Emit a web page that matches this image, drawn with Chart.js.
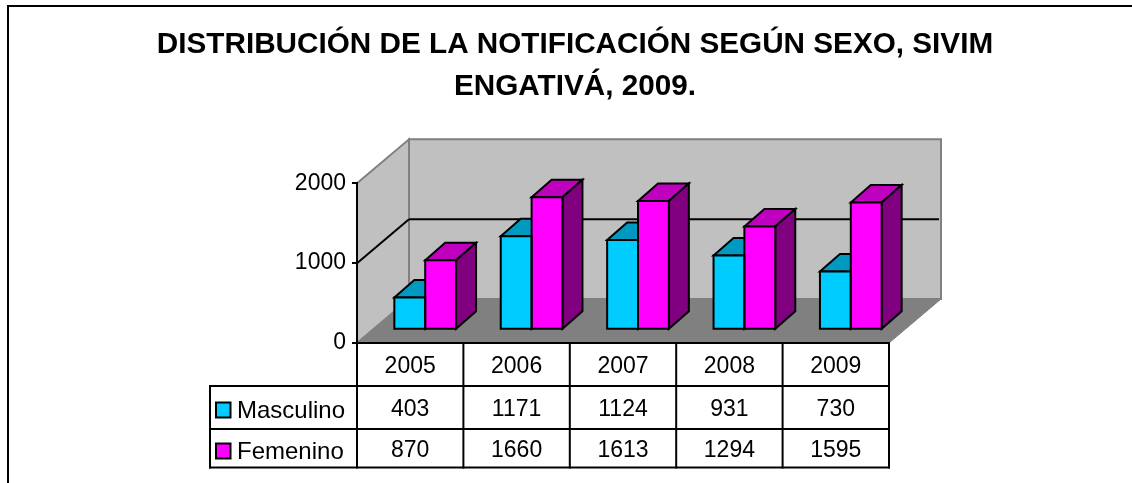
<!DOCTYPE html>
<html><head><meta charset="utf-8">
<style>html,body{margin:0;padding:0;background:#fff}canvas{display:block}</style>
<script src="https://cdn.jsdelivr.net/npm/chart.js@4"></script>
</head><body><canvas id="c" width="1132" height="483"></canvas>
<script>
const categories = ['2005','2006','2007','2008','2009'];
const masculino = [403,1171,1124,931,730];
const femenino = [870,1660,1613,1294,1595];
const seriesNames = ['Masculino','Femenino'];
const titleLines = ['DISTRIBUCIÓN DE LA NOTIFICACIÓN SEGÚN SEXO, SIVIM','ENGATIVÁ, 2009.'];
const FONT = '"Liberation Sans", Arial, sans-serif';
const TXT = 23;
const WALL = [52,-44], BARSHIFT = [15,-13.2], BARDEPTH = [20,-17.5];
const COL = {m:['#00CCFF','#0099BF','#006680'], f:['#FF00FF','#BF00BF','#800080']};
const ROWS = [386,429,467.5], TLEFT = 210;

function poly(ctx,pts,fill,stroke,lw){
  ctx.beginPath();pts.forEach((p,i)=>i?ctx.lineTo(p[0],p[1]):ctx.moveTo(p[0],p[1]));ctx.closePath();
  if(fill){ctx.fillStyle=fill;ctx.fill();}
  if(stroke){ctx.strokeStyle=stroke;ctx.lineWidth=lw;ctx.lineJoin='miter';ctx.stroke();}
}
function seg(ctx,x1,y1,x2,y2,col,lw){ctx.beginPath();ctx.moveTo(x1,y1);ctx.lineTo(x2,y2);ctx.strokeStyle=col;ctx.lineWidth=lw;ctx.stroke();}

const chart3d = {
  id:'chart3d',
  beforeDraw(chart){
    const {ctx,scales:{x,y}}=chart, a=chart.chartArea;
    const dx=WALL[0],dy=WALL[1];
    ctx.save();
    ctx.strokeStyle='#000';ctx.lineWidth=2;
    ctx.beginPath();ctx.moveTo(8,483);ctx.lineTo(8,6);ctx.lineTo(1132,6);ctx.stroke();
    const b=y.getPixelForValue(0),t=y.getPixelForValue(2000);
    poly(ctx,[[a.left+dx,t+dy],[a.right+dx,t+dy],[a.right+dx,b+dy],[a.left+dx,b+dy]],'#C0C0C0','#808080',2);
    poly(ctx,[[a.left,t],[a.left+dx,t+dy],[a.left+dx,b+dy],[a.left,b]],'#C0C0C0','#808080',2);
    poly(ctx,[[a.left,b],[a.left+dx,b+dy],[a.right+dx,b+dy],[a.right,b]],'#808080','#808080',1);
    const g=y.getPixelForValue(1000);
    seg(ctx,a.left,g,a.left+dx,g+dy,'#000',2);
    seg(ctx,a.left+dx,g+dy,a.right+dx-2,g+dy,'#000',2);
    const n=categories.length, w=(a.right-a.left)/n;
    ctx.lineCap='square';
    for(let i=0;i<=n;i++){const xx=a.left+i*w;seg(ctx,xx,b,xx,ROWS[2],'#000',2);}
    ROWS.forEach(r=>seg(ctx,TLEFT,r,a.right,r,'#000',2));
    seg(ctx,TLEFT,ROWS[0],TLEFT,ROWS[2],'#000',2);
    ctx.textBaseline='middle';
    const rowY=[410,451];
    [masculino,femenino].forEach((arr,r)=>{
      ctx.font=TXT+'px '+FONT;
      ctx.textAlign='center';
      arr.forEach((v,i)=>{ctx.fillStyle='#000';ctx.fillText(String(v),x.getPixelForTick(i),rowY[r]);});
      ctx.textAlign='left';
      ctx.font='24px '+FONT;
      ctx.fillStyle='#000';ctx.fillText(seriesNames[r],237,rowY[r]+1);
      const c=r?COL.f[0]:COL.m[0];
      poly(ctx,[[216,rowY[r]-7.5],[230.5,rowY[r]-7.5],[230.5,rowY[r]+7.5],[216,rowY[r]+7.5]],c,'#000',2);
    });
    ctx.restore();
  },
  beforeDatasetsDraw(chart){
    const ctx=chart.ctx;
    ctx.save();
    ctx.translate(BARSHIFT[0],BARSHIFT[1]);
    const [dx,dy]=BARDEPTH;
    [COL.m,COL.f].forEach((c,ds)=>{
      chart.getDatasetMeta(ds).data.forEach(bar=>{
        const p=bar.getProps(['x','y','base','width'],true);
        const l=p.x-p.width/2,r=p.x+p.width/2;
        poly(ctx,[[l,p.y],[l+dx,p.y+dy],[r+dx,p.y+dy],[r,p.y]],c[1],'#000',2);
        poly(ctx,[[r,p.y],[r+dx,p.y+dy],[r+dx,p.base+dy],[r,p.base]],c[2],'#000',2);
      });
    });
  },
  afterDatasetsDraw(chart){
    const ctx=chart.ctx;
    [0,1].forEach(ds=>{
      chart.getDatasetMeta(ds).data.forEach(bar=>{
        const p=bar.getProps(['x','y','base','width'],true);
        const l=p.x-p.width/2,r=p.x+p.width/2;
        poly(ctx,[[l,p.y],[r,p.y],[r,p.base],[l,p.base]],null,'#000',2);
      });
    });
    ctx.restore();
  }
};

new Chart(document.getElementById('c'),{
  type:'bar',
  data:{labels:categories,datasets:[
    {label:seriesNames[0],data:masculino,backgroundColor:COL.m[0],borderWidth:0},
    {label:seriesNames[1],data:femenino,backgroundColor:COL.f[0],borderWidth:0}
  ]},
  plugins:[chart3d],
  options:{
    responsive:false,animation:false,devicePixelRatio:1,
    layout:{padding:{left:18,right:0,top:0,bottom:0}},
    datasets:{bar:{categoryPercentage:0.58,barPercentage:1}},
    plugins:{
      legend:{display:false},tooltip:{enabled:false},
      title:{display:true,text:titleLines,color:'#000',
        font:{family:FONT,size:29.7,weight:'bold',lineHeight:42/29.7},
        padding:{top:24,bottom:75.3}}
    },
    scales:{
      x:{position:'bottom',grid:{display:false},
        border:{display:true,color:'#000',width:2},
        ticks:{color:'#000',font:{family:FONT,size:TXT},padding:2,maxRotation:0,autoSkip:false},
        afterFit(s){s.height=483-343;}},
      y:{position:'left',min:0,max:2000,
        grid:{drawOnChartArea:false,color:'#000',lineWidth:2,tickLength:5,drawTicks:true},
        border:{display:true,color:'#000',width:2},
        ticks:{stepSize:1000,color:'#000',font:{family:FONT,size:TXT},padding:6,callback:v=>String(v)},
        afterFit(s){s.width=357-18;}},
      spacer:{position:'right',display:true,grid:{display:false},border:{display:false},ticks:{display:false},
        afterFit(s){s.width=1132-889;}}
    }
  }
});
</script></body></html>
